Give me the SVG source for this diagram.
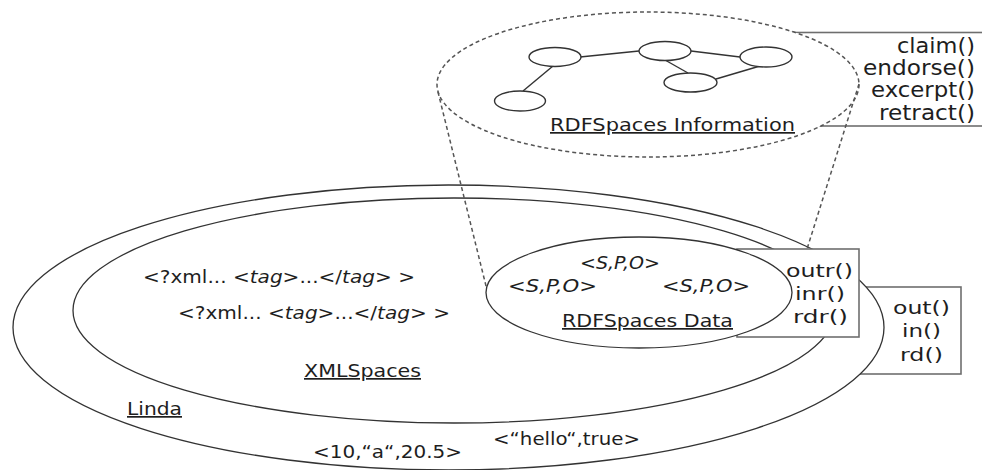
<svg xmlns="http://www.w3.org/2000/svg" width="982" height="470" viewBox="0 0 982 470">
<style>
.t{font-family:"DejaVu Sans","Liberation Sans",sans-serif;fill:#1e1e1e;}
.u{text-decoration:underline;}
.i{font-style:italic;}
.el{fill:#fff;stroke:#333;stroke-width:1.3;}
.box{fill:#fff;stroke:#6e6e6e;stroke-width:1.6;}
.dash{fill:none;stroke:#555;stroke-width:1.5;stroke-dasharray:4 3;}
.node{fill:#fff;stroke:#333;stroke-width:1.4;}
.edge{stroke:#333;stroke-width:1.4;fill:none;}
</style>
<rect width="982" height="470" fill="#fff"/>

<g id="info-ops">
  <rect class="box" x="780" y="32.5" width="220" height="93.5"/>
  <text class="t" font-size="21" x="897" y="53" textLength="78" lengthAdjust="spacingAndGlyphs">claim()</text>
  <text class="t" font-size="21" x="863" y="75" textLength="112" lengthAdjust="spacingAndGlyphs">endorse()</text>
  <text class="t" font-size="21" x="871" y="97" textLength="104" lengthAdjust="spacingAndGlyphs">excerpt()</text>
  <text class="t" font-size="21" x="879" y="120" textLength="96" lengthAdjust="spacingAndGlyphs">retract()</text>
</g>

<g id="rdf-information">
  <ellipse cx="648" cy="84.5" rx="211" ry="72.5" class="dash" style="fill:#fff"/>
  <text class="t u" font-size="17" x="550" y="131" textLength="245" lengthAdjust="spacingAndGlyphs">RDFSpaces Information</text>
</g>

<g id="graph-edges">
  <line class="edge" x1="553" y1="66" x2="523" y2="91"/>
  <line class="edge" x1="580" y1="57" x2="639" y2="51"/>
  <line class="edge" x1="665" y1="60" x2="688" y2="73"/>
  <line class="edge" x1="691" y1="51" x2="740" y2="57"/>
  <line class="edge" x1="716" y1="79" x2="760" y2="66"/>
</g>
<g id="node-a"><ellipse class="node" cx="555" cy="57" rx="26" ry="9.5"/></g>
<g id="node-b"><ellipse class="node" cx="665" cy="51" rx="26" ry="9.5"/></g>
<g id="node-c"><ellipse class="node" cx="520" cy="101" rx="25.5" ry="10"/></g>
<g id="node-d"><ellipse class="node" cx="690.5" cy="82.5" rx="26.5" ry="9.5"/></g>
<g id="node-e"><ellipse class="node" cx="766" cy="57" rx="26" ry="10"/></g>

<g id="linda-ops">
  <rect class="box" x="840" y="287" width="121" height="87"/>
  <text class="t" font-size="18" x="893" y="314" textLength="57" lengthAdjust="spacingAndGlyphs">out()</text>
  <text class="t" font-size="18" x="902" y="337" textLength="39" lengthAdjust="spacingAndGlyphs">in()</text>
  <text class="t" font-size="18" x="900" y="361" textLength="43" lengthAdjust="spacingAndGlyphs">rd()</text>
</g>

<g id="linda">
  <ellipse class="el" cx="448.5" cy="327.5" rx="435.5" ry="142.5"/>
  <text class="t u" font-size="17" x="127" y="415" textLength="55" lengthAdjust="spacingAndGlyphs">Linda</text>
  <text class="t" font-size="18" x="313" y="458" textLength="149" lengthAdjust="spacingAndGlyphs">&lt;10,“a“,20.5&gt;</text>
  <text class="t" font-size="18" x="493" y="445" textLength="147" lengthAdjust="spacingAndGlyphs">&lt;“hello“,true&gt;</text>
</g>

<g id="xmlspaces">
  <ellipse class="el" cx="454" cy="310.5" rx="381" ry="112.5"/>
  <text class="t" font-size="18" x="143" y="283" textLength="272" lengthAdjust="spacingAndGlyphs">&lt;?xml... &lt;<tspan class="i">tag</tspan>&gt;...&lt;/<tspan class="i">tag</tspan>&gt; &gt;</text>
  <text class="t" font-size="18" x="178" y="319" textLength="272" lengthAdjust="spacingAndGlyphs">&lt;?xml... &lt;<tspan class="i">tag</tspan>&gt;...&lt;/<tspan class="i">tag</tspan>&gt; &gt;</text>
  <text class="t u" font-size="17" x="304" y="377" textLength="117" lengthAdjust="spacingAndGlyphs">XMLSpaces</text>
</g>

<g id="connectors">
  <line class="dash" x1="438" y1="92" x2="487" y2="290"/>
  <line class="dash" x1="859" y1="84" x2="807" y2="249"/>
</g>

<g id="rdf-ops">
  <rect class="box" x="737" y="249" width="122" height="88"/>
  <text class="t" font-size="18" x="786" y="277" textLength="67" lengthAdjust="spacingAndGlyphs">outr()</text>
  <text class="t" font-size="18" x="795" y="300" textLength="50" lengthAdjust="spacingAndGlyphs">inr()</text>
  <text class="t" font-size="18" x="793" y="323" textLength="55" lengthAdjust="spacingAndGlyphs">rdr()</text>
</g>

<g id="rdf-data">
  <ellipse class="el" cx="639" cy="292.5" rx="153" ry="55.5"/>
  <text class="t i" font-size="17" x="580" y="269" textLength="80" lengthAdjust="spacingAndGlyphs">&lt;S,P,O&gt;</text>
  <text class="t i" font-size="17" x="508" y="292" textLength="89" lengthAdjust="spacingAndGlyphs">&lt;S,P,O&gt;</text>
  <text class="t i" font-size="17" x="662" y="292" textLength="88" lengthAdjust="spacingAndGlyphs">&lt;S,P,O&gt;</text>
  <text class="t u" font-size="17" x="562" y="327" textLength="171" lengthAdjust="spacingAndGlyphs">RDFSpaces Data</text>
</g>
</svg>
